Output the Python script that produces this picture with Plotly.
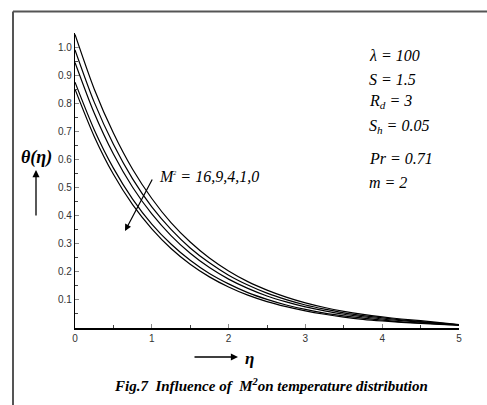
import plotly.graph_objects as go

# ---- data ----
eta = [0.0, 0.25, 0.5, 0.75, 1.0, 1.25, 1.5, 1.75, 2.0, 2.25, 2.5, 2.75, 3.0,
       3.25, 3.5, 3.75, 4.0, 4.25, 4.5, 4.75, 5.0]
theta_M0 = [1.045, 0.851, 0.694, 0.565, 0.461, 0.375, 0.306, 0.249, 0.203, 0.165, 0.135, 0.110,
            0.0894, 0.0729, 0.0594, 0.0484, 0.0394, 0.032, 0.026, 0.019, 0.012]
theta_M1 = [0.990, 0.804, 0.654, 0.531, 0.431, 0.351, 0.285, 0.232, 0.188, 0.153, 0.124, 0.101,
            0.082, 0.067, 0.054, 0.044, 0.036, 0.029, 0.023, 0.017, 0.011]
theta_M4 = [0.945, 0.765, 0.619, 0.501, 0.406, 0.329, 0.266, 0.215, 0.174, 0.141, 0.114, 0.093,
            0.075, 0.061, 0.049, 0.040, 0.032, 0.026, 0.021, 0.016, 0.011]
theta_M9 = [0.875, 0.706, 0.569, 0.459, 0.370, 0.299, 0.241, 0.194, 0.157, 0.126, 0.102, 0.082,
            0.066, 0.053, 0.043, 0.035, 0.028, 0.022, 0.018, 0.014, 0.010]
theta_M16 = [0.850, 0.682, 0.547, 0.439, 0.353, 0.283, 0.227, 0.182, 0.146, 0.117, 0.094, 0.076,
             0.061, 0.049, 0.039, 0.031, 0.025, 0.020, 0.016, 0.013, 0.010]
series = [("M²=0", theta_M0), ("M²=1", theta_M1), ("M²=4", theta_M4),
          ("M²=9", theta_M9), ("M²=16", theta_M16)]

x_ticks = [0, 1, 2, 3, 4, 5]
y_ticks = [0.1, 0.2, 0.3, 0.4, 0.5, 0.6, 0.7, 0.8, 0.9, 1.0]
params = ["<i>λ = 100</i>", "<i>S = 1.5</i>", "<i>R<sub>d</sub> = 3</i>",
          "<i>S<sub>h</sub> = 0.05</i>", "<i>Pr = 0.71</i>", "<i>m = 2</i>"]

W, H = 487, 405
L, R, T, B = 75, 28, 33, 77
pw, ph = W - L - R, H - T - B

def px(xp):
    return (xp - L) / pw

def py(yp):
    return (H - B - yp) / ph

fig = go.Figure()
for name, ys in series:
    fig.add_trace(go.Scatter(x=eta, y=ys, mode="lines", name=name,
                             line=dict(color="black", width=1.2, shape="spline", smoothing=0.8),
                             showlegend=False, hoverinfo="skip"))

serif = "Liberation Serif, Times New Roman, serif"
sans = "Liberation Sans, Arial, sans-serif"

annotations = []
param_y = [55, 79, 101, 127, 158, 182]
for txt, yy in zip(params, param_y):
    annotations.append(dict(text=txt, xref="paper", yref="paper", x=px(367), y=py(yy),
                            xanchor="left", yanchor="middle", showarrow=False,
                            font=dict(family=serif, size=16, color="black")))

annotations.append(dict(text="<i>M<sup><span style='font-size:6px'>2</span></sup> = 16,9,4,1,0</i>",
                        xref="paper", yref="paper",
                        x=px(157), y=py(176), xanchor="left", yanchor="middle", showarrow=False,
                        font=dict(family=serif, size=16, color="black")))
# arrow through the curves
annotations.append(dict(text="", xref="paper", yref="paper", x=px(125), y=py(231),
                        ax=28, ay=-53, showarrow=True, arrowhead=2, arrowsize=1.1,
                        arrowwidth=1.2, arrowcolor="black"))
# y axis title and arrow
annotations.append(dict(text="<b><i>θ(η)</i></b>", xref="paper", yref="paper", x=px(36), y=py(157),
                        xanchor="center", yanchor="middle", showarrow=False,
                        font=dict(family=serif, size=18, color="black")))
annotations.append(dict(text="", xref="paper", yref="paper", x=px(36), y=py(170),
                        ax=0, ay=47, showarrow=True, arrowhead=2, arrowsize=1.1,
                        arrowwidth=1.3, arrowcolor="black"))
# x axis title and arrow
annotations.append(dict(text="", xref="paper", yref="paper", x=px(238), y=py(357),
                        ax=-45, ay=0, showarrow=True, arrowhead=2, arrowsize=1.1,
                        arrowwidth=1.3, arrowcolor="black"))
annotations.append(dict(text="<b><i>η</i></b>", xref="paper", yref="paper", x=px(249), y=py(358),
                        xanchor="center", yanchor="middle", showarrow=False,
                        font=dict(family=serif, size=17, color="black")))
# caption
annotations.append(dict(text="<b><i>Fig.7  Influence of  M<sup>2</sup>on temperature distribution</i></b>",
                        xref="paper", yref="paper", x=px(271), y=py(385),
                        xanchor="center", yanchor="middle", showarrow=False,
                        font=dict(family=serif, size=15, color="black")))

shapes = [
    dict(type="line", xref="paper", yref="paper", x0=px(13), x1=px(487), y0=py(11.5), y1=py(11.5),
         line=dict(color="#555555", width=2)),
    dict(type="line", xref="paper", yref="paper", x0=px(13), x1=px(13), y0=py(11.5), y1=py(405),
         line=dict(color="#555555", width=2)),
]

fig.update_layout(
    width=W, height=H, margin=dict(l=L, r=R, t=T, b=B, pad=0),
    paper_bgcolor="white", plot_bgcolor="white",
    annotations=annotations, shapes=shapes,
    xaxis=dict(range=[0, 5], tickvals=x_ticks, ticktext=[str(v) for v in x_ticks],
               ticks="inside", ticklen=4, tickcolor="#888888", showgrid=False, zeroline=False,
               showline=True, linecolor="black", linewidth=1.5,
               minor=dict(tickvals=[0.5, 1.5, 2.5, 3.5, 4.5], ticks="inside", ticklen=3, tickcolor="#444444"),
               tickfont=dict(family=sans, size=10, color="#333333")),
    yaxis=dict(range=[0, 1.05], tickvals=y_ticks, ticktext=["%.1f" % v for v in y_ticks],
               ticks="inside", ticklen=4, tickcolor="#888888", showgrid=False, zeroline=False,
               showline=True, linecolor="black", linewidth=1.2,
               minor=dict(tickvals=[0.05, 0.15, 0.25, 0.35, 0.45, 0.55, 0.65, 0.75, 0.85, 0.95],
                          ticks="inside", ticklen=3, tickcolor="#444444"),
               tickfont=dict(family=sans, size=10, color="#333333")),
)

fig.write_html("out.html", config={"displayModeBar": False},
               post_script="document.body.style.margin='0px';document.body.style.overflow='hidden';")
